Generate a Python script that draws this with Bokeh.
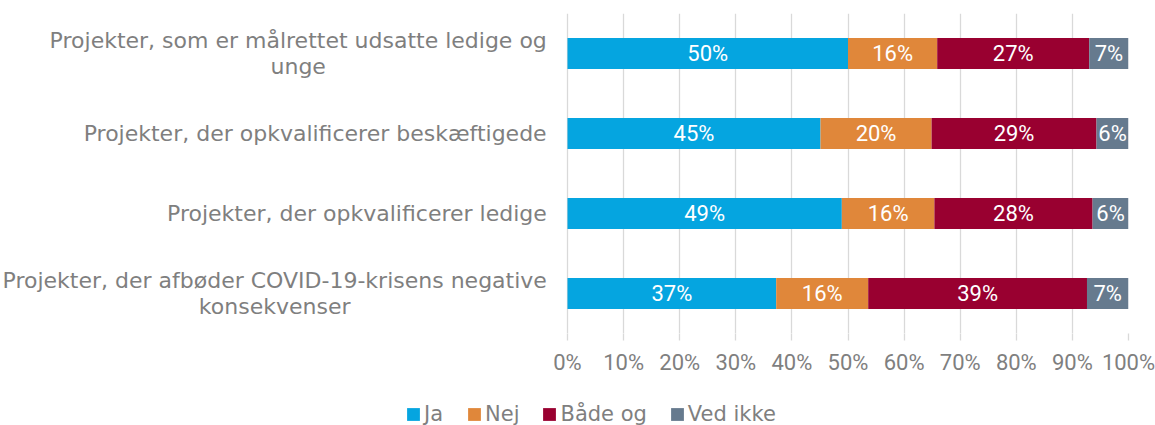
from bokeh.plotting import figure
from bokeh.layouts import column
from bokeh.models import (ColumnDataSource, FactorRange, Range1d, FixedTicker,
                          PrintfTickFormatter, Legend, LegendItem)
from bokeh.core.properties import value
from bokeh.embed import file_html
from bokeh.resources import INLINE

# ---- data ----
categories = [
    "Projekter, som er målrettet udsatte ledige og\nunge",
    "Projekter, der opkvalificerer beskæftigede",
    "Projekter, der opkvalificerer ledige",
    "Projekter, der afbøder COVID-19-krisens negative\nkonsekvenser",
]
ja = [50.0, 45.1, 48.9, 37.2]
nej = [15.9, 19.8, 16.5, 16.4]
bade = [27.1, 29.4, 28.2, 39.0]
ved = [7.0, 5.7, 6.4, 7.4]
series_names = ["Ja", "Nej", "Både og", "Ved ikke"]
series_keys = ["ja", "nej", "bade", "ved"]
colors = ["#05A5E0", "#E0873A", "#990030", "#667A8E"]
x_ticks = [0, 10, 20, 30, 40, 50, 60, 70, 80, 90, 100]

# ---- style / layout ----
GRAY = "#7f7f7f"
GRID = "#d9d9d9"
CAT_FONT = "DejaVu Sans"
CAT_SIZE = 22
NUM_FONT = "Roboto"
W, H1, H2 = 1155, 392, 33
ZERO_PX, FULL_PX = 567, 1128          # screen x of 0% and 100%
LABEL_GAP = 20                         # px between labels and the 0% line

px_per_unit = (FULL_PX - ZERO_PX) / 100.0
x_start = -ZERO_PX / px_per_unit

# approximate DejaVu Sans advance widths (em) to centre wrapped lines
_dv = {' ': .318, ',': .318, '-': .361, 'C': .698, 'O': .787, 'V': .684, 'I': .295,
       'D': .770, 'P': .603, 'a': .613, 'b': .635, 'c': .550, 'd': .635, 'e': .615,
       'f': .352, 'g': .635, 'h': .634, 'i': .278, 'j': .278, 'k': .579, 'l': .278,
       'm': .974, 'n': .634, 'o': .612, 'p': .635, 'r': .411, 's': .521, 't': .392,
       'u': .634, 'v': .592, 'å': .613, 'æ': .982, 'ø': .612}


def text_width(s):
    return sum(_dv.get(ch, .636) for ch in s) * CAT_SIZE


data = dict(cat=categories, ja=ja, nej=nej, bade=bade, ved=ved)
source = ColumnDataSource(data)

p = figure(
    width=W, height=H1,
    y_range=FactorRange(factors=list(reversed(categories))),
    x_range=Range1d(x_start, 100),
    output_backend="svg", toolbar_location=None,
    min_border_left=0, min_border_right=W - FULL_PX,
    min_border_top=13, min_border_bottom=H1 - 333,
)
p.outline_line_color = None
p.background_fill_color = "white"
p.border_fill_color = "white"

renderers = p.hbar_stack(series_keys, y="cat", height=0.39, color=colors,
                         line_color=None, source=source)

# data labels in the segments
all_vals = [ja, nej, bade, ved]
lx, ly, lt = [], [], []
for i, cat in enumerate(categories):
    cum = 0.0
    for vals in all_vals:
        v = vals[i]
        lx.append(cum + v / 2.0)
        ly.append(cat)
        lt.append(f"{round(v):d}%")
        cum += v
lab_src = ColumnDataSource(dict(x=lx, y=ly, t=lt))
p.text(x="x", y="y", text="t", source=lab_src, text_align="center",
       text_baseline="middle", text_color="white",
       text_font=value(NUM_FONT), text_font_size="22px")

# category labels (right edge at the gap, wrapped lines centred)
cx = []
for c in categories:
    wmax = max(text_width(line) for line in c.split("\n"))
    cx.append(-(LABEL_GAP + wmax / 2.0) / px_per_unit)
cat_src = ColumnDataSource(dict(x=cx, y=categories, t=categories))
p.text(x="x", y="y", text="t", source=cat_src, text_align="center",
       text_baseline="middle", text_color=GRAY, text_font=value(CAT_FONT),
       text_font_size=f"{CAT_SIZE}px", text_line_height=1.05)

# grid
p.xgrid.ticker = FixedTicker(ticks=x_ticks)
p.xgrid.grid_line_color = GRID
p.xgrid.grid_line_width = 1.3
p.ygrid.grid_line_color = None

# x axis
xa = p.xaxis[0]
xa.ticker = FixedTicker(ticks=x_ticks)
xa.formatter = PrintfTickFormatter(format="%d%%")
xa.axis_line_color = None
xa.major_tick_line_color = GRID
xa.major_tick_line_width = 1.3
xa.major_tick_in = 0
xa.major_tick_out = 7
xa.minor_tick_line_color = None
xa.major_label_standoff = 9
xa.major_label_text_font = NUM_FONT
xa.major_label_text_font_size = "22px"
xa.major_label_text_color = GRAY

p.yaxis.visible = False

# ---- legend strip ----
p2 = figure(width=W, height=H2, x_range=Range1d(0, W), y_range=Range1d(0, H2),
            output_backend="svg", toolbar_location=None,
            min_border_left=0, min_border_right=0, min_border_top=0,
            min_border_bottom=0)
p2.outline_line_color = None
p2.axis.visible = False
p2.grid.grid_line_color = None
# one off-canvas proxy bar per series, only so the legend has a swatch
proxy = ColumnDataSource(dict(y=[-10 * H2], right=[0]))
leg_r = [p2.hbar(y="y", right="right", height=1, color=c, line_color=None, source=proxy)
         for c in colors]
items = [LegendItem(label=n, renderers=[r]) for n, r in zip(series_names, leg_r)]
legend = Legend(items=items, orientation="horizontal", location=(405, -1),
                glyph_width=16, glyph_height=16, label_standoff=3, spacing=22,
                padding=0, margin=0, border_line_color=None,
                background_fill_alpha=0,
                label_text_font=CAT_FONT, label_text_font_size="21px",
                label_text_color=GRAY)
p2.add_layout(legend, "center")

layout = column(p, p2, spacing=0)
open("out.html", "w").write(file_html(layout, INLINE))
